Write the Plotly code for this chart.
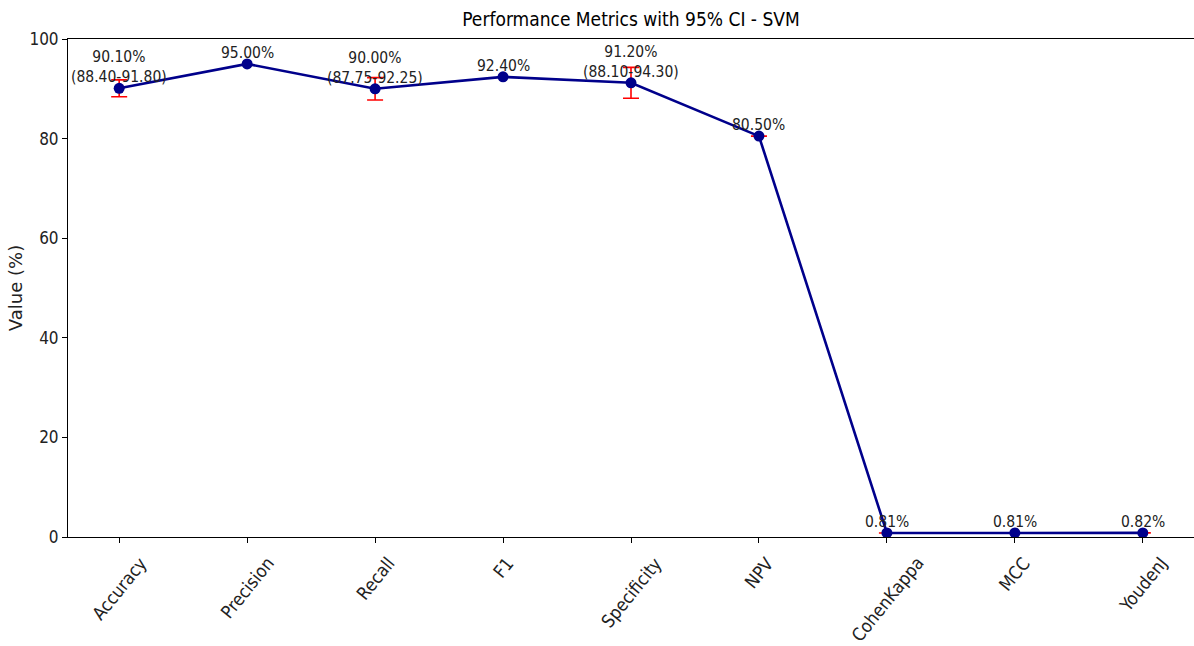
import plotly.graph_objects as go

# Metric names and point estimates (%)
metrics = ["Accuracy", "Precision", "Recall", "F1", "Specificity",
           "NPV", "CohenKappa", "MCC", "YoudenJ"]
values = [90.10, 95.00, 90.00, 92.40, 91.20, 80.50, 0.81, 0.81, 0.82]

# 95% confidence bounds (None where no interval was reported)
ci_low = [88.40, None, 87.75, None, 88.10, 80.50, 0.81, 0.81, 0.82]
ci_high = [91.80, None, 92.25, None, 94.30, 80.50, 0.81, 0.81, 0.82]
# Whether the interval is printed under the value
show_ci = [True, False, True, False, True, False, False, False, False]

COND = "DejaVu Sans Condensed, Liberation Sans Narrow, DejaVu Sans, sans-serif"
TXT = "#222222"

fig = go.Figure()

# Error bars (drawn underneath the line)
eb_x, eb_y, eb_plus, eb_minus = [], [], [], []
for m, v, lo, hi in zip(metrics, values, ci_low, ci_high):
    if lo is None:
        continue
    eb_x.append(m)
    eb_y.append(v)
    eb_plus.append(hi - v)
    eb_minus.append(v - lo)

fig.add_trace(go.Scatter(
    x=eb_x, y=eb_y, mode="markers",
    marker=dict(size=1, color="rgba(0,0,0,0)"),
    error_y=dict(type="data", symmetric=False, array=eb_plus,
                 arrayminus=eb_minus, color="red", thickness=1.6, width=8),
    showlegend=False, hoverinfo="skip",
))

# Metric line with markers
fig.add_trace(go.Scatter(
    x=metrics, y=values, mode="lines+markers",
    line=dict(color="#00008B", width=2.6),
    marker=dict(size=11, color="#00008B"),
    showlegend=False,
))

# Value labels above each point
for m, v, lo, hi, s in zip(metrics, values, ci_low, ci_high, show_ci):
    text = f"{v:.2f}%"
    if s:
        text += f"<br>({lo:.2f}-{hi:.2f})"
    fig.add_annotation(
        x=m, y=v, xref="x", yref="y", text=text, showarrow=False,
        xanchor="center", yanchor="bottom", yshift=0,
        font=dict(family=COND, size=15.5, color=TXT),
    )

# Rotated category labels
for m in metrics:
    fig.add_annotation(
        x=m, y=0, xref="x", yref="paper", text=m, showarrow=False,
        textangle=-51, xanchor="center", yanchor="top", yshift=-13,
        font=dict(family=COND, size=18, color=TXT),
    )

fig.update_layout(
    width=1194, height=646,
    margin=dict(l=68, r=0, t=39, b=109),
    paper_bgcolor="white", plot_bgcolor="white",
    title=dict(text="Performance Metrics with 95% CI - SVM",
               x=(68 + 1194) / 2 / 1194, xanchor="center",
               y=1 - 19 / 646, yanchor="middle",
               font=dict(family=COND, size=19, color="black")),
)

fig.update_xaxes(
    type="category", categoryorder="array", categoryarray=metrics,
    range=[-0.4, 8.4],
    showline=True, linecolor="black", linewidth=1, mirror=True,
    ticks="outside", ticklen=5, tickcolor="black",
    showticklabels=False, showgrid=False, zeroline=False,
)
fig.update_yaxes(
    range=[0, 100], tickvals=[0, 20, 40, 60, 80, 100],
    showline=True, linecolor="black", linewidth=1, mirror=True,
    ticks="outside", ticklen=5, tickcolor="black",
    tickfont=dict(family=COND, size=17, color=TXT),
    showgrid=False, zeroline=False,
    title=dict(text="Value (%)", standoff=2,
               font=dict(family="DejaVu Sans, sans-serif", size=18, color=TXT)),
)

fig.write_html("out.html")
